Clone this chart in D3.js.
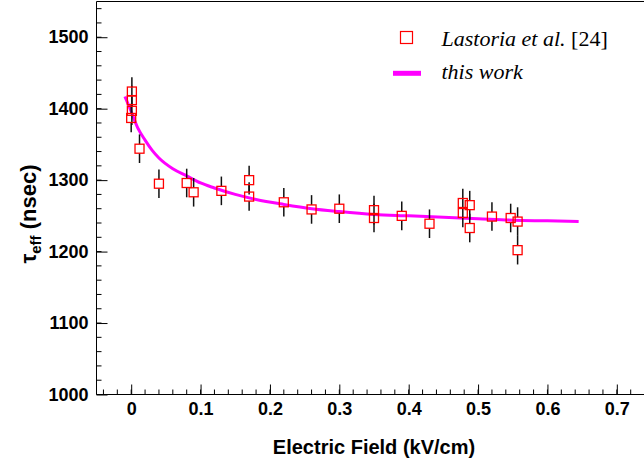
<!DOCTYPE html>
<html>
<head>
<meta charset="utf-8">
<script src="https://cdn.jsdelivr.net/npm/d3@7"></script>
<style>
  html, body { margin: 0; padding: 0; background: #fff; }
  svg { display: block; }
</style>
</head>
<body>
<svg id="chart" width="644" height="466"></svg>
<script>
// Lastoria et al. [24] measurements (kV/cm, nsec)
const fieldKV = [0.001, 0.001, 0.001, 0.0, 0.012, 0.04, 0.08, 0.09, 0.13, 0.17, 0.17,
  0.22, 0.26, 0.30, 0.35, 0.35, 0.39, 0.43, 0.478, 0.478, 0.488, 0.488, 0.52, 0.547, 0.557, 0.557];
const tauNs = [1424, 1412, 1397, 1387, 1344, 1295, 1296, 1283, 1285, 1300, 1277,
  1269, 1259, 1260, 1258, 1247, 1250, 1239, 1268, 1254, 1265, 1233, 1249, 1247, 1242, 1202];
const tauErr = [20, 20, 20, 20, 20, 20, 20, 20, 20, 20, 20,
  20, 20, 20, 20, 20, 20, 20, 20, 20, 20, 20, 20, 20, 20, 20];

// this work (curve)
const fitField = [-0.009, 0, 0.01, 0.02, 0.03, 0.04, 0.06, 0.08, 0.10, 0.12, 0.15, 0.18,
  0.22, 0.26, 0.30, 0.35, 0.40, 0.45, 0.50, 0.55, 0.60, 0.645];
const fitTau = [1417, 1396, 1372, 1356, 1342, 1331, 1316, 1306, 1296, 1289, 1280, 1273,
  1266, 1260, 1256, 1252, 1250, 1248, 1246, 1244, 1243, 1242];

const xTicks = [0, 0.1, 0.2, 0.3, 0.4, 0.5, 0.6, 0.7];
const yTicks = [1000, 1100, 1200, 1300, 1400, 1500];

const svg = d3.select("#chart");
const width = 644;
const height = 466;
const margin = { top: 1.5, right: -7.5, bottom: 71.5, left: 96.5 };
const innerWidth = width - margin.left - margin.right;
const innerHeight = height - margin.top - margin.bottom;
const visibleWidth = width - margin.left; // frame runs past the window edge
const sansBold = "Liberation Sans, Arial, sans-serif";

// scales
const x = d3.scaleLinear().domain([-0.05, 0.75]).range([0, innerWidth]);
const y = d3.scaleLinear().domain([1000, 1550]).range([innerHeight, 0]);

const g = svg.append("g").attr("transform", `translate(${margin.left}, ${margin.top})`);

// minor ticks (lines only)
g.append("g")
  .attr("class", "x-minor")
  .selectAll("line")
  .data(x.ticks(40).filter((v) => x(v) <= visibleWidth))
  .join("line")
  .attr("x1", (d) => x(d))
  .attr("x2", (d) => x(d))
  .attr("y1", innerHeight)
  .attr("y2", innerHeight - 5)
  .attr("stroke", "#000");

g.append("g")
  .attr("class", "y-minor")
  .selectAll("line")
  .data(d3.range(1000, 1551, 20))
  .join("line")
  .attr("x1", 0)
  .attr("x2", 5)
  .attr("y1", (d) => y(d))
  .attr("y2", (d) => y(d))
  .attr("stroke", "#000");

// major ticks + labels
const styleAxis = (a) => {
  a.select(".domain").remove();
  a.attr("font-family", sansBold).attr("font-size", 18).attr("font-weight", "bold");
  a.selectAll(".tick line").attr("stroke", "#000");
  a.selectAll(".tick text").attr("fill", "#000");
};

g.append("g")
  .attr("class", "x-axis")
  .attr("transform", `translate(0, ${innerHeight})`)
  .call(d3.axisBottom(x).tickValues(xTicks).tickSize(-10).tickPadding(8).tickFormat(d3.format(".1~f")))
  .call(styleAxis);

g.append("g")
  .attr("class", "y-axis")
  .call(d3.axisLeft(y).tickValues(yTicks).tickSize(-11).tickPadding(8).tickFormat(d3.format("d")))
  .call(styleAxis);

// frame: top, left and bottom sides; right side is outside the window
g.append("path")
  .attr("d", `M${visibleWidth},0H0V${innerHeight}H${visibleWidth}`)
  .attr("fill", "none")
  .attr("stroke", "#000")
  .attr("stroke-width", 1);

// fit curve
const fitData = fitField.map((f, i) => ({ f, t: fitTau[i] }));
g.append("path")
  .datum(fitData)
  .attr("fill", "none")
  .attr("stroke", "#ff00ff")
  .attr("stroke-width", 3)
  .attr("d", d3.line().x((d) => x(d.f)).y((d) => y(d.t)).curve(d3.curveMonotoneX));

// data points with error bars
const half = 4.5;
const points = fieldKV.map((f, i) => ({ f, t: tauNs[i], e: tauErr[i] }));

const bars = g.append("g").attr("class", "errors");
bars.selectAll("line.up")
  .data(points)
  .join("line")
  .attr("class", "up")
  .attr("x1", (d) => x(d.f))
  .attr("x2", (d) => x(d.f))
  .attr("y1", (d) => y(d.t + d.e))
  .attr("y2", (d) => y(d.t) - half)
  .attr("stroke", "#111")
  .attr("stroke-width", 1.5);
bars.selectAll("line.down")
  .data(points)
  .join("line")
  .attr("class", "down")
  .attr("x1", (d) => x(d.f))
  .attr("x2", (d) => x(d.f))
  .attr("y1", (d) => y(d.t) + half)
  .attr("y2", (d) => y(d.t - d.e))
  .attr("stroke", "#111")
  .attr("stroke-width", 1.5);

g.append("g")
  .attr("class", "markers")
  .selectAll("rect")
  .data(points)
  .join("rect")
  .attr("x", (d) => x(d.f) - half)
  .attr("y", (d) => y(d.t) - half)
  .attr("width", half * 2)
  .attr("height", half * 2)
  .attr("fill", "none")
  .attr("stroke", "#ff0000")
  .attr("stroke-width", 1.3);

// axis titles
svg.append("text")
  .attr("x", margin.left + innerWidth / 2)
  .attr("y", 454)
  .attr("text-anchor", "middle")
  .attr("font-family", sansBold)
  .attr("font-weight", "bold")
  .attr("font-size", 20)
  .text("Electric Field (kV/cm)");

const yTitle = svg.append("text")
  .attr("transform", "translate(36, 214) rotate(-90)")
  .attr("text-anchor", "middle")
  .attr("font-family", sansBold)
  .attr("font-weight", "bold")
  .attr("font-size", 22);
yTitle.append("tspan").text("τ");
yTitle.append("tspan").attr("font-size", 15).attr("dy", 5).text("eff");
yTitle.append("tspan").attr("dy", -5).text(" (nsec)");

// legend
const legend = svg.append("g").attr("class", "legend");
legend.append("rect")
  .attr("x", 400.5)
  .attr("y", 31.5)
  .attr("width", 12)
  .attr("height", 12)
  .attr("fill", "none")
  .attr("stroke", "#ff0000")
  .attr("stroke-width", 1.2);
legend.append("line")
  .attr("x1", 393)
  .attr("x2", 421)
  .attr("y1", 73.3)
  .attr("y2", 73.3)
  .attr("stroke", "#ff00ff")
  .attr("stroke-width", 5);

const l1 = legend.append("text")
  .attr("x", 441.5)
  .attr("y", 45.5)
  .attr("font-family", "Liberation Serif, Times New Roman, serif")
  .attr("font-size", 22);
l1.append("tspan").attr("font-style", "italic").text("Lastoria et al.");
l1.append("tspan").text(" [24]");

legend.append("text")
  .attr("x", 441.5)
  .attr("y", 79)
  .attr("font-family", "Liberation Serif, Times New Roman, serif")
  .attr("font-size", 22)
  .attr("font-style", "italic")
  .text("this work");
</script>
</body>
</html>
